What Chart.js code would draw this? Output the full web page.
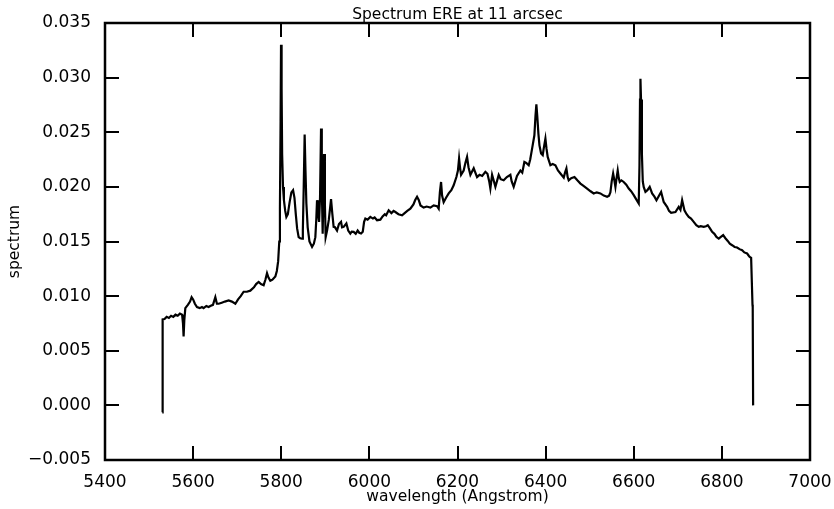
<!DOCTYPE html>
<html>
<head>
<meta charset="utf-8">
<script src="https://cdn.jsdelivr.net/npm/chart.js@4"></script>
<style>
  body { margin: 0; background: #fff; }
  canvas { display: block; }
</style>
</head>
<body>
<canvas id="spectrumChart" width="834" height="509"></canvas>
<script>
const titleText = 'Spectrum ERE at 11 arcsec';
const xLabel = 'wavelength (Angstrom)';
const yLabel = 'spectrum';

const xTicks = [5400, 5600, 5800, 6000, 6200, 6400, 6600, 6800, 7000];
const yTicks = [-0.005, 0, 0.005, 0.010, 0.015, 0.020, 0.025, 0.030, 0.035];

// wavelength (Angstrom)
const wavelength = [
    5530, 5530.8, 5535, 5540, 5545, 5550, 5555, 5560, 5565, 5570, 5575, 5577, 5578.4, 5580, 5582.3,
    5588, 5593, 5596.6, 5600, 5604, 5608.8, 5615, 5620, 5623.8, 5630, 5635, 5639, 5645, 5650.4, 5654,
    5657.9, 5665, 5672, 5680.6, 5688, 5695.8, 5702, 5708, 5714.6, 5722, 5729.8, 5738, 5743, 5748.7, 5754,
    5760, 5764, 5767.7, 5771, 5775.2, 5780, 5786.6, 5790, 5793, 5795.5, 5797, 5798.5, 5799.5, 5800.8, 5802,
    5804, 5806, 5809, 5811.6, 5815, 5819, 5823, 5826.8, 5830, 5833, 5836, 5839.5, 5843, 5847.2, 5849,
    5851, 5853.1, 5855, 5857, 5860, 5864, 5869.9, 5874, 5877.4, 5879.5, 5881.2, 5883, 5885.8, 5888, 5890.3,
    5892, 5894, 5895.5, 5897.1, 5899, 5900.8, 5904, 5908, 5913, 5916, 5918.9, 5922, 5926.6, 5931, 5935.7,
    5938, 5941.6, 5947.8, 5952, 5956.8, 5960, 5964.3, 5969, 5973.4, 5977, 5981.1, 5985, 5988, 5990.9, 5996,
    6002.2, 6008, 6012, 6017.4, 6024.9, 6030, 6035, 6038, 6043.8, 6050, 6055, 6059, 6066, 6074.2, 6080,
    6086, 6093, 6100, 6104, 6108.2, 6112, 6116, 6123.2, 6130, 6138.4, 6146, 6153.6, 6157.3, 6160, 6162.7,
    6165, 6168.6, 6174, 6180, 6186, 6191.3, 6197.5, 6201, 6203.6, 6206, 6208.1, 6214, 6218, 6221.7, 6225,
    6229.3, 6236.8, 6244.4, 6250, 6256, 6263.3, 6268, 6272, 6274.6, 6278.5, 6282, 6286, 6293.5, 6298, 6304.8,
    6312, 6320, 6323, 6327.5, 6335, 6342.7, 6347, 6351.8, 6356, 6361.6, 6365, 6369.3, 6374.5, 6377, 6379,
    6381, 6383.6, 6386, 6389.7, 6393.4, 6396, 6399.5, 6402, 6404.7, 6410.8, 6416, 6422.2, 6428, 6433.6, 6441.1,
    6444, 6447.2, 6450, 6452.4, 6458, 6465.4, 6472, 6479, 6486, 6494.1, 6502, 6509.1, 6516, 6524.3, 6532,
    6539.5, 6544, 6547, 6550, 6553.2, 6556, 6558.4, 6561, 6563.6, 6566, 6568.2, 6572, 6577.2, 6583, 6588.6,
    6594, 6600, 6605, 6609.1, 6611.3, 6613, 6614.2, 6615.2, 6616.5, 6618.5, 6620.5, 6622.6, 6626.5, 6631, 6636.2,
    6641.7, 6647, 6651.5, 6656, 6662.1, 6668, 6675.7, 6680, 6684.8, 6694.6, 6702.1, 6706, 6709.8, 6715, 6720,
    6724.8, 6730, 6736.1, 6742, 6747.5, 6752, 6758.8, 6764, 6768, 6773, 6777.9, 6783, 6787.7, 6792.9, 6797,
    6802.9, 6808, 6813.3, 6818, 6823.3, 6829, 6834.6, 6840, 6846, 6851, 6857.3, 6861, 6863.2, 6866.4, 6869.5,
    6870, 6870.9
];

const spectrum = [
    -0.00064, 0.00787, 0.0079, 0.0081, 0.0080, 0.0082, 0.0081, 0.0083, 0.0082, 0.0084, 0.0083, 0.0075, 0.0063, 0.0078, 0.0089,
    0.0092, 0.0095, 0.0099, 0.0097, 0.0093, 0.0090, 0.0089, 0.0090, 0.0089, 0.0091, 0.0090, 0.0091, 0.0092, 0.0099, 0.0093,
    0.0093, 0.0094, 0.0095, 0.0096, 0.0095, 0.0093, 0.0097, 0.0100, 0.0104, 0.0104, 0.0105, 0.0108, 0.0111, 0.0113, 0.0111,
    0.0110, 0.0115, 0.0121, 0.0117, 0.0114, 0.0115, 0.0118, 0.0123, 0.0132, 0.0150, 0.0180, 0.0260, 0.0330, 0.0290, 0.0230,
    0.0200, 0.0188, 0.0178, 0.01725, 0.0175, 0.0186, 0.0195, 0.0197, 0.0190, 0.0175, 0.0162, 0.0154, 0.0153, 0.01527, 0.0160,
    0.0200, 0.0248, 0.0215, 0.0185, 0.0163, 0.0150, 0.0145, 0.0148, 0.0154, 0.0170, 0.01878, 0.0178, 0.0168, 0.0190, 0.02534,
    0.0200, 0.0157, 0.0190, 0.0230, 0.0185, 0.0154, 0.0160, 0.0170, 0.01887, 0.0175, 0.01634, 0.0163, 0.0160, 0.0166, 0.0168,
    0.0163, 0.01634, 0.01665, 0.0160, 0.01573, 0.0159, 0.01588, 0.0157, 0.0160, 0.0158, 0.01573, 0.0159, 0.0168, 0.0171, 0.0170,
    0.01725, 0.0171, 0.0172, 0.01695, 0.0170, 0.0173, 0.0175, 0.0174, 0.01786, 0.0176, 0.0178, 0.0177, 0.0175, 0.0174, 0.0176,
    0.0178, 0.0180, 0.0184, 0.0188, 0.0191, 0.0188, 0.0183, 0.0181, 0.0182, 0.0181, 0.0183, 0.01823, 0.0180, 0.0195, 0.02045,
    0.0192, 0.0186, 0.0190, 0.0194, 0.0197, 0.02015, 0.0209, 0.0215, 0.0226, 0.0217, 0.0211, 0.0215, 0.0222, 0.02274, 0.0218,
    0.0211, 0.0217, 0.0209, 0.0211, 0.0210, 0.02137, 0.0212, 0.0205, 0.01985, 0.0211, 0.0206, 0.0200, 0.0211, 0.0207, 0.0206,
    0.0209, 0.0211, 0.0205, 0.0200, 0.0210, 0.0215, 0.0213, 0.02228, 0.0222, 0.02198, 0.0225, 0.0235, 0.02472, 0.0265, 0.02756,
    0.0265, 0.02488, 0.0238, 0.02305, 0.0229, 0.0236, 0.02442, 0.0235, 0.02274, 0.02198, 0.0221, 0.02198, 0.0215, 0.02122, 0.02085,
    0.0213, 0.02168, 0.0209, 0.0206, 0.0208, 0.0209, 0.0206, 0.0203, 0.0201, 0.01985, 0.0196, 0.0194, 0.0195, 0.0194, 0.0192,
    0.0191, 0.0192, 0.0195, 0.0205, 0.02122, 0.0206, 0.0200, 0.0208, 0.0215, 0.0208, 0.02045, 0.0206, 0.02045, 0.0202, 0.01985,
    0.0196, 0.01924, 0.0189, 0.01862, 0.01848, 0.0220, 0.0280, 0.0299, 0.0280, 0.0230, 0.0205, 0.0200, 0.01954, 0.0197, 0.0200,
    0.0194, 0.0191, 0.01878, 0.0191, 0.01954, 0.01862, 0.01817, 0.0178, 0.01762, 0.0177, 0.01817, 0.0179, 0.01878, 0.01786, 0.0175,
    0.01725, 0.0171, 0.0168, 0.0165, 0.01634, 0.0164, 0.01634, 0.0164, 0.01649, 0.0162, 0.01588, 0.0157, 0.01542, 0.01527, 0.0154,
    0.01558, 0.0153, 0.01505, 0.0148, 0.01466, 0.0145, 0.01445, 0.0143, 0.0142, 0.0140, 0.0139, 0.0137, 0.01359, 0.0135, 0.0092,
    0.0090, 0.0000
];

const fontFamily = '"DejaVu Sans", sans-serif';

function formatY(v) {
    const s = Number(v).toFixed(3);
    return s.startsWith('-') ? '\u2212' + s.slice(1) : s;
}

// matplotlib-like frame with inward ticks on all four sides, plus texts
const framePlugin = {
    id: 'frame',
    afterDraw(chart) {
        const { ctx, chartArea: a, scales } = chart;
        const tickLen = 14;
        ctx.save();
        ctx.strokeStyle = '#000';
        ctx.lineWidth = 2;
        ctx.beginPath();
        xTicks.forEach(t => {
            const px = Math.round(scales.x.getPixelForValue(t));
            ctx.moveTo(px, a.bottom);
            ctx.lineTo(px, a.bottom - tickLen);
            ctx.moveTo(px, a.top);
            ctx.lineTo(px, a.top + tickLen);
        });
        yTicks.forEach(t => {
            const py = Math.round(scales.y.getPixelForValue(t));
            ctx.moveTo(a.left, py);
            ctx.lineTo(a.left + tickLen, py);
            ctx.moveTo(a.right, py);
            ctx.lineTo(a.right - tickLen, py);
        });
        ctx.stroke();

        ctx.lineWidth = 2.5;
        ctx.strokeRect(a.left, a.top, a.right - a.left, a.bottom - a.top);

        ctx.fillStyle = '#000';
        ctx.textAlign = 'center';
        ctx.textBaseline = 'alphabetic';
        ctx.font = '15.5px ' + fontFamily;
        ctx.fillText(titleText, (a.left + a.right) / 2, 19);
        ctx.fillText(xLabel, (a.left + a.right) / 2, 501);

        ctx.translate(19, (a.top + a.bottom) / 2);
        ctx.rotate(-Math.PI / 2);
        ctx.fillText(yLabel, 0, 0);
        ctx.restore();
    }
};

const ctx = document.getElementById('spectrumChart').getContext('2d');
new Chart(ctx, {
    type: 'line',
    data: {
        datasets: [{
            label: 'spectrum',
            data: wavelength.map((w, i) => ({ x: w, y: spectrum[i] })),
            borderColor: '#000',
            borderWidth: 2.2,
            pointRadius: 0,
            tension: 0,
            fill: false
        }]
    },
    options: {
        responsive: false,
        devicePixelRatio: 1,
        animation: false,
        layout: { padding: { top: 23, right: 24, left: 0, bottom: 0 } },
        plugins: {
            legend: { display: false },
            title: { display: false },
            tooltip: { enabled: false }
        },
        scales: {
            x: {
                type: 'linear',
                min: 5400,
                max: 7000,
                afterFit: scale => {
                    scale.height = 49;
                    scale.paddingLeft = 0;
                    scale.paddingRight = 0;
                },
                afterBuildTicks: scale => { scale.ticks = xTicks.map(v => ({ value: v })); },
                grid: { display: false, drawTicks: false },
                border: { display: false },
                ticks: {
                    padding: 12,
                    color: '#000',
                    maxRotation: 0,
                    font: { family: fontFamily, size: 17 },
                    callback: v => String(v)
                }
            },
            y: {
                type: 'linear',
                min: -0.005,
                max: 0.035,
                afterFit: scale => {
                    scale.width = 105;
                    scale.paddingTop = 0;
                    scale.paddingBottom = 0;
                },
                afterBuildTicks: scale => { scale.ticks = yTicks.map(v => ({ value: v })); },
                grid: { display: false, drawTicks: false },
                border: { display: false },
                ticks: {
                    padding: 14,
                    color: '#000',
                    font: { family: fontFamily, size: 17 },
                    callback: v => formatY(v)
                }
            }
        }
    },
    plugins: [framePlugin]
});
</script>
</body>
</html>
